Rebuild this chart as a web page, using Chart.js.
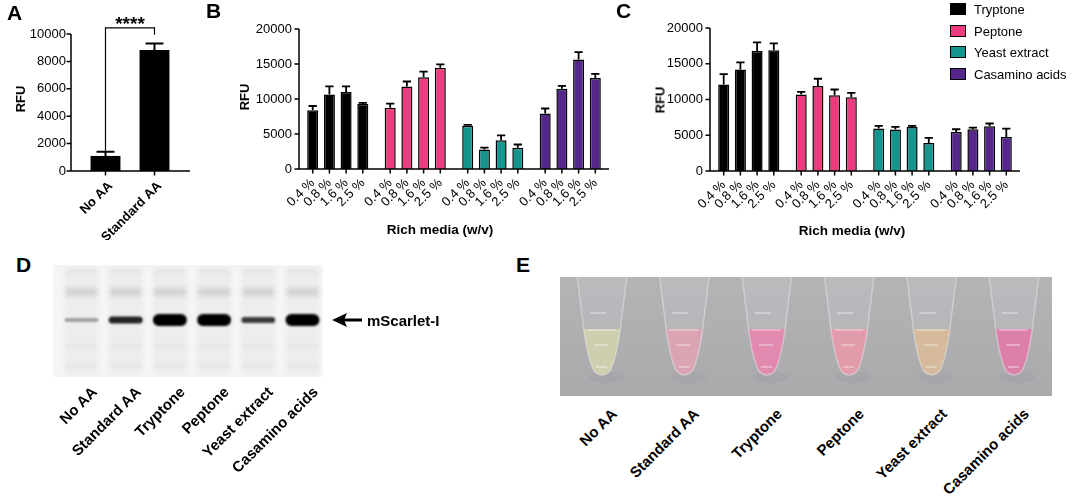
<!DOCTYPE html>
<html>
<head>
<meta charset="utf-8">
<script src="https://cdn.jsdelivr.net/npm/chart.js@4.4.1/dist/chart.umd.min.js"></script>
<style>
  body { margin: 0; background: #fff; font-family: "Liberation Sans", Arial, sans-serif; color: #000; }
  #fig { position: relative; width: 1072px; height: 498px; overflow: hidden; }
  canvas { position: absolute; }
  .letter { position: absolute; font-weight: bold; font-size: 21px; line-height: 1; }
  .ytitle { position: absolute; font-weight: bold; font-size: 13px; white-space: nowrap;
            transform: translate(-50%, -50%) rotate(-90deg); }
  .xtitle { position: absolute; font-weight: bold; font-size: 13.5px; white-space: nowrap;
            transform: translate(-50%, -50%); }
  .legend { position: absolute; left: 950px; top: 3px; font-size: 13px; }
  .legend div { position: relative; height: 13px; margin-bottom: 8.6px; }
  .legend i { position: absolute; left: 0; top: 0; width: 14px; height: 10px; border: 1.5px solid #000; }
  .legend span { position: absolute; left: 24px; top: -1px; white-space: nowrap; line-height: 15px; }
  .rot { position: absolute; width: 0; height: 0; transform: rotate(-45deg); }
  .rot span { position: absolute; right: 0; top: 0; transform: translateY(-50%);
              white-space: nowrap; font-weight: bold; font-size: 15px; line-height: 1; }
  .marker { position: absolute; font-weight: bold; font-size: 15px; line-height: 1; transform: translateY(-50%); }
</style>
</head>
<body>
<div id="fig">
  <canvas id="chartA" width="200" height="240" style="left:0;top:0"></canvas>
  <canvas id="chartB" width="390" height="245" style="left:225px;top:0"></canvas>
  <canvas id="chartC" width="385" height="245" style="left:640px;top:0"></canvas>
  <canvas id="gel" width="330" height="125" style="left:40px;top:260px"></canvas>
  <canvas id="photo" width="492" height="119" style="left:560px;top:277px"></canvas>

  <div class="letter" style="left:7px;top:2px">A</div>
  <div class="letter" style="left:206px;top:0">B</div>
  <div class="letter" style="left:616px;top:0">C</div>
  <div class="letter" style="left:16px;top:254px">D</div>
  <div class="letter" style="left:516px;top:254px">E</div>

  <div class="ytitle" style="left:20px;top:99px">RFU</div>
  <div class="ytitle" style="left:244px;top:97px">RFU</div>
  <div class="ytitle" style="left:660px;top:100px">RFU</div>
  <div class="xtitle" style="left:440px;top:229px">Rich media (w/v)</div>
  <div class="xtitle" style="left:852px;top:230px">Rich media (w/v)</div>

  <div class="legend" id="legend"></div>
  <div class="marker" style="left:367px;top:320px">mScarlet-I</div>
  <div id="labels"></div>
</div>

<script>
// ---------------- Data ----------------
const aCategories = ["No AA", "Standard AA"];
const aValues = [1100, 8830];
const aSD = [300, 480];
const aTicks = [0, 2000, 4000, 6000, 8000, 10000];
const sigLabel = "****";
const sigValue = 10450;

const media = ["Tryptone", "Peptone", "Yeast extract", "Casamino acids"];
const concentrations = ["0.4 %", "0.8 %", "1.6 %", "2.5 %"];
const richTicks = [0, 5000, 10000, 15000, 20000];

// panel B, one array per medium (0.4, 0.8, 1.6, 2.5 %)
const bTryptone = [8400, 10650, 11000, 9300];
const bPeptone = [8740, 11800, 13100, 14450];
const bYeast = [6170, 2800, 4100, 3040];
const bCasamino = [7940, 11450, 15650, 13000];
const bTryptoneSD = [600, 1150, 800, 150];
const bPeptoneSD = [610, 700, 800, 500];
const bYeastSD = [130, 240, 700, 460];
const bCasaminoSD = [700, 420, 1050, 600];

// panel C
const cTryptone = [12100, 14200, 16800, 16900];
const cPeptone = [10700, 11900, 10600, 10300];
const cYeast = [5930, 5800, 6170, 3930];
const cCasamino = [5470, 5840, 6260, 4770];
const cTryptoneSD = [1450, 1000, 1200, 950];
const cPeptoneSD = [370, 1000, 800, 630];
const cYeastSD = [370, 370, 130, 700];
const cCasaminoSD = [370, 230, 380, 1160];

// panels D and E
const samples = ["No AA", "Standard AA", "Tryptone", "Peptone", "Yeast extract", "Casamino acids"];
const bandStrength = [0.12, 0.6, 1, 1, 0.5, 1];

// ---------------- Styles ----------------
const FONT = "'Liberation Sans', Arial, sans-serif";
const mediaColors = ["#000000", "#ec3b7e", "#16958f", "#55278a"];
const tubeColors = ["#d2d0ae", "#dfa2b3", "#e584ad", "#e798a8", "#d8ba98", "#e17aa7"];

Chart.defaults.font.family = FONT;
Chart.defaults.color = "#000";

// ---------------- Plugins ----------------
const prismAxes = {
  id: "prismAxes",
  afterDatasetsDraw(chart, args, opts) {
    const { ctx, chartArea, scales: { y } } = chart;
    const x0 = chartArea.left - opts.gapLeft;
    const x1 = chartArea.right + opts.extendRight;
    const yZero = y.getPixelForValue(0);
    const yTop = y.getPixelForValue(y.max);
    ctx.save();
    ctx.strokeStyle = "#000";
    ctx.lineWidth = 1.5;
    ctx.beginPath();
    ctx.moveTo(x0, yTop);
    ctx.lineTo(x0, yZero);
    ctx.lineTo(x1, yZero);
    y.ticks.forEach(t => {
      const py = y.getPixelForValue(t.value);
      ctx.moveTo(x0 - 4.5, py);
      ctx.lineTo(x0, py);
    });
    chart.data.datasets.forEach((ds, i) => {
      chart.getDatasetMeta(i).data.forEach(bar => {
        ctx.moveTo(bar.x, yZero);
        ctx.lineTo(bar.x, yZero + 4.5);
      });
    });
    ctx.stroke();
    ctx.restore();
  }
};

const errorBars = {
  id: "errorBars",
  afterDatasetsDraw(chart, args, opts) {
    const { ctx, scales: { y } } = chart;
    ctx.save();
    ctx.strokeStyle = "#000";
    ctx.lineWidth = opts.lineWidth;
    chart.data.datasets.forEach((ds, i) => {
      chart.getDatasetMeta(i).data.forEach((bar, j) => {
        const top = y.getPixelForValue(ds.data[j] + ds.sd[j]);
        const half = bar.width * opts.capRatio / 2;
        ctx.beginPath();
        ctx.moveTo(bar.x, bar.y);
        ctx.lineTo(bar.x, top);
        ctx.moveTo(bar.x - half, top);
        ctx.lineTo(bar.x + half, top);
        ctx.stroke();
      });
    });
    ctx.restore();
  }
};

const barLabels = {
  id: "barLabels",
  afterDatasetsDraw(chart, args, opts) {
    const { ctx, scales: { y } } = chart;
    const yZero = y.getPixelForValue(0);
    ctx.save();
    ctx.font = opts.font;
    ctx.fillStyle = "#000";
    ctx.textAlign = "right";
    ctx.textBaseline = "middle";
    chart.data.datasets.forEach((ds, i) => {
      chart.getDatasetMeta(i).data.forEach((bar, j) => {
        const text = opts.source === "category" ? chart.data.labels[j] : ds.label;
        ctx.save();
        ctx.translate(bar.x + opts.dx, yZero + opts.dy);
        ctx.rotate(-Math.PI / 4);
        ctx.fillText(text, 0, 0);
        ctx.restore();
      });
    });
    ctx.restore();
  }
};

const sigBracket = {
  id: "sigBracket",
  afterDatasetsDraw(chart, args, opts) {
    if (!opts.label) return;
    const { ctx, scales: { y } } = chart;
    const ds = chart.data.datasets[0];
    const bars = chart.getDatasetMeta(0).data;
    const yb = y.getPixelForValue(opts.value);
    const yl = y.getPixelForValue(ds.data[0] + ds.sd[0]) - 1;
    ctx.save();
    ctx.strokeStyle = "#000";
    ctx.lineWidth = 1.2;
    ctx.beginPath();
    ctx.moveTo(bars[0].x, yl);
    ctx.lineTo(bars[0].x, yb);
    ctx.lineTo(bars[1].x, yb);
    ctx.lineTo(bars[1].x, yb + 7);
    ctx.stroke();
    ctx.font = "bold 19px " + FONT;
    ctx.fillStyle = "#000";
    ctx.textAlign = "center";
    ctx.textBaseline = "alphabetic";
    ctx.fillText(opts.label, (bars[0].x + bars[1].x) / 2, yb + 2);
    ctx.restore();
  }
};

Chart.register(prismAxes, errorBars, barLabels, sigBracket);

const plainTick = v => String(v);

// ---------------- Panel A ----------------
new Chart(document.getElementById("chartA"), {
  type: "bar",
  data: {
    labels: aCategories,
    datasets: [{
      data: aValues,
      sd: aSD,
      backgroundColor: "#000",
      borderWidth: 0,
      barPercentage: 0.61,
      categoryPercentage: 1
    }]
  },
  options: {
    responsive: false,
    animation: false,
    layout: { padding: { top: 34, right: 21, left: 0, bottom: 0 } },
    plugins: {
      legend: { display: false },
      tooltip: { enabled: false },
      prismAxes: { gapLeft: 10, extendRight: 11 },
      errorBars: { lineWidth: 2, capRatio: 0.6 },
      barLabels: { source: "category", font: "bold 13px " + FONT, dx: 5, dy: 13 },
      sigBracket: { label: sigLabel, value: sigValue }
    },
    scales: {
      x: {
        grid: { display: false },
        border: { display: false },
        ticks: { display: false },
        afterFit: s => { s.height = 69; }
      },
      y: {
        min: 0,
        max: 10000,
        afterBuildTicks: s => { s.ticks = aTicks.map(v => ({ value: v })); },
        ticks: { padding: 15, font: { size: 13 }, callback: plainTick },
        grid: { display: false, drawTicks: false },
        border: { display: false },
        afterFit: s => { s.width = 81; }
      }
    }
  }
});

// ---------------- Panels B and C ----------------
function richChart(id, series, sds, geo) {
  return new Chart(document.getElementById(id), {
    type: "bar",
    data: {
      labels: media,
      datasets: concentrations.map((conc, j) => ({
        label: conc,
        data: series.map(s => s[j]),
        sd: sds.map(s => s[j]),
        backgroundColor: mediaColors,
        borderColor: "#000",
        borderWidth: 1.5,
        barPercentage: 0.66,
        categoryPercentage: 0.862
      }))
    },
    options: {
      responsive: false,
      animation: false,
      layout: { padding: { top: geo.top, right: geo.right, left: 0, bottom: 0 } },
      plugins: {
        legend: { display: false },
        tooltip: { enabled: false },
        prismAxes: { gapLeft: 0, extendRight: 0 },
        errorBars: { lineWidth: 1.8, capRatio: 0.75 },
        barLabels: { source: "dataset", font: "13px " + FONT, dx: 0, dy: 12 },
        sigBracket: { label: "" }
      },
      scales: {
        x: {
          grid: { display: false },
          border: { display: false },
          ticks: { display: false },
          afterFit: s => { s.height = geo.xHeight; }
        },
        y: {
          min: 0,
          max: 20000,
          afterBuildTicks: s => { s.ticks = richTicks.map(v => ({ value: v })); },
          ticks: { padding: 7, font: { size: 13 }, callback: plainTick },
          grid: { display: false, drawTicks: false },
          border: { display: false },
          afterFit: s => { s.width = geo.yWidth; }
        }
      }
    }
  });
}

richChart("chartB",
  [bTryptone, bPeptone, bYeast, bCasamino],
  [bTryptoneSD, bPeptoneSD, bYeastSD, bCasaminoSD],
  { top: 29, right: 6, xHeight: 76, yWidth: 74 });

richChart("chartC",
  [cTryptone, cPeptone, cYeast, cCasamino],
  [cTryptoneSD, cPeptoneSD, cYeastSD, cCasaminoSD],
  { top: 28, right: 5, xHeight: 74, yWidth: 70 });

// legend
const legend = document.getElementById("legend");
media.forEach((m, i) => {
  const row = document.createElement("div");
  row.innerHTML = `<i style="background:${mediaColors[i]}"></i><span>${m}</span>`;
  legend.appendChild(row);
});

// ---------------- Rotated sample labels (D, E) ----------------
const labelBox = document.getElementById("labels");
function rotLabel(text, x, y) {
  const d = document.createElement("div");
  d.className = "rot";
  d.style.left = x + "px";
  d.style.top = y + "px";
  d.innerHTML = `<span>${text}</span>`;
  labelBox.appendChild(d);
}
const laneX = i => 81.5 + i * 44.2;
const tubeX = i => 602 + i * 82.4;
samples.forEach((s, i) => {
  rotLabel(s, laneX(i) + 12, 389);
  rotLabel(s, tubeX(i) + 12, 411);
});

// ---------------- Panel D: gel ----------------
(function drawGel() {
  const g = document.getElementById("gel").getContext("2d");
  const ox = 40, oy = 260;
  g.fillStyle = "#f5f5f5";
  g.fillRect(53 - ox, 265 - oy, 270, 112);
  g.filter = "blur(2px)";
  samples.forEach((s, i) => {
    const cx = laneX(i) - ox;
    g.fillStyle = "rgba(0,0,0,0.03)";
    g.fillRect(cx - 17, 267 - oy, 34, 108);
    g.fillStyle = "rgba(0,0,0,0.04)";
    g.fillRect(cx - 16, 270 - oy, 32, 4);
    g.fillRect(cx - 16, 345 - oy, 32, 3);
    g.fillRect(cx - 16, 364 - oy, 32, 3);
    g.fillStyle = "rgba(0,0,0,0.11)";
    g.fillRect(cx - 16, 288 - oy, 32, 8);
  });
  g.filter = "blur(0.8px)";
  samples.forEach((s, i) => {
    const cx = laneX(i) - ox;
    const st = bandStrength[i];
    const h = 3 + 9 * Math.pow(st, 1.5);
    g.fillStyle = `rgba(0,0,0,${Math.min(1, 0.25 + st)})`;
    g.beginPath();
    g.roundRect(cx - 17, 320 - oy - h / 2, 34, h, h / 2);
    g.fill();
  });
  g.filter = "none";
  // arrow
  g.strokeStyle = "#000";
  g.fillStyle = "#000";
  g.lineWidth = 3;
  g.beginPath();
  g.moveTo(343 - ox, 320 - oy);
  g.lineTo(362 - ox, 320 - oy);
  g.stroke();
  g.beginPath();
  g.moveTo(332 - ox, 320 - oy);
  g.lineTo(347 - ox, 313 - oy);
  g.lineTo(344 - ox, 320 - oy);
  g.lineTo(347 - ox, 327 - oy);
  g.closePath();
  g.fill();
})();

// ---------------- Panel E: tubes ----------------
(function drawPhoto() {
  const p = document.getElementById("photo").getContext("2d");
  const ox = 560;
  const bg = p.createLinearGradient(0, 0, 0, 119);
  bg.addColorStop(0, "#b4b3b6");
  bg.addColorStop(1, "#aaa9ac");
  p.fillStyle = bg;
  p.fillRect(0, 0, 492, 119);
  function tube(cx) {
    p.beginPath();
    p.moveTo(cx - 25, -2);
    p.lineTo(cx - 19, 46);
    p.quadraticCurveTo(cx - 15, 80, cx - 8, 94);
    p.quadraticCurveTo(cx, 102, cx + 8, 94);
    p.quadraticCurveTo(cx + 15, 80, cx + 19, 46);
    p.lineTo(cx + 25, -2);
    p.closePath();
  }
  samples.forEach((s, i) => {
    const cx = tubeX(i) - ox;
    p.fillStyle = "rgba(120,120,125,0.08)";
    p.beginPath();
    p.ellipse(cx + 4, 100, 18, 6, 0, 0, Math.PI * 2);
    p.fill();
    tube(cx);
    p.fillStyle = "rgba(215,215,218,0.2)";
    p.fill();
    p.save();
    tube(cx);
    p.clip();
    p.globalAlpha = 0.9;
    p.fillStyle = tubeColors[i];
    p.fillRect(cx - 30, 52, 60, 60);
    p.globalAlpha = 1;
    p.strokeStyle = "rgba(255,255,255,0.65)";
    p.lineWidth = 1.2;
    p.beginPath();
    p.moveTo(cx - 12, 36); p.lineTo(cx + 4, 36);
    p.moveTo(cx - 15, 53); p.lineTo(cx + 14, 53);
    p.moveTo(cx - 8, 68); p.lineTo(cx + 6, 68);
    p.moveTo(cx - 6, 90); p.lineTo(cx + 5, 90);
    p.stroke();
    p.restore();
    tube(cx);
    p.strokeStyle = "rgba(235,235,238,0.45)";
    p.lineWidth = 1.5;
    p.stroke();
  });
})();
</script>
</body>
</html>
